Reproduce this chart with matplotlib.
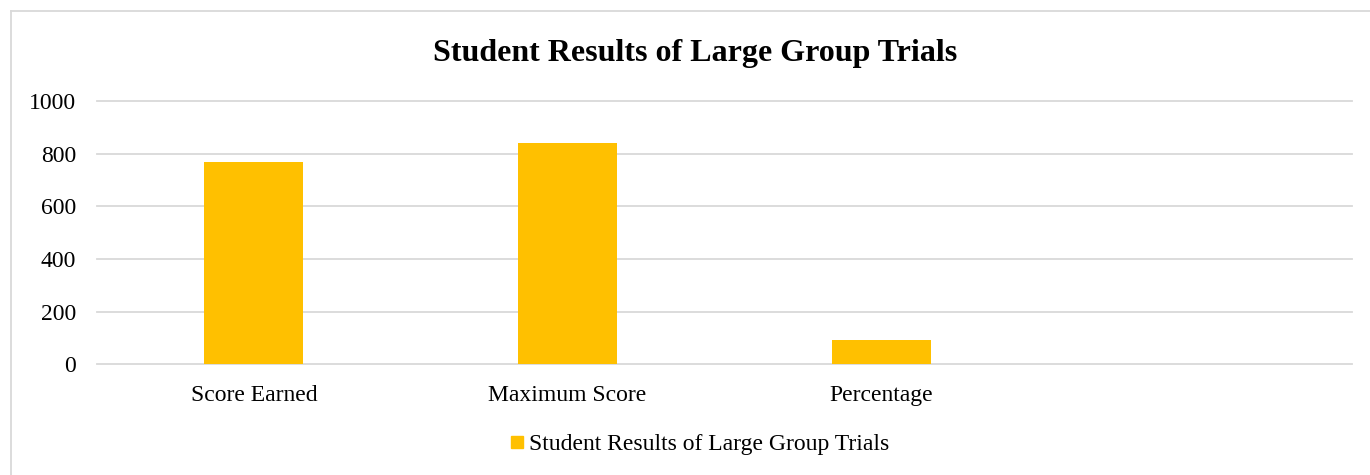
import matplotlib
matplotlib.use("Agg")
import matplotlib.pyplot as plt
from matplotlib.lines import Line2D

categories = ["Score Earned", "Maximum Score", "Percentage", ""]
values = [770, 840, 91.67, 0]
series_name = "Student Results of Large Group Trials"
title = "Student Results of Large Group Trials"
yticks = [0, 200, 400, 600, 800, 1000]

plt.rcParams['font.family'] = ['Liberation Serif', 'DejaVu Serif']

W, H = 1370, 475
fig = plt.figure(figsize=(W / 100, H / 100), dpi=100)
ax = fig.add_axes([97 / W, 1 - 364.3 / H, (1352 - 97) / W, (364.3 - 101) / H])

bar_color = "#FFC000"
x = list(range(len(categories)))
ax.bar(x[:3], values[:3], width=0.315, color=bar_color, zorder=3)
ax.set_xlim(-0.5, len(categories) - 0.5)
ax.set_ylim(0, 1000)
ax.set_yticks(yticks)
ax.set_yticklabels([str(v) for v in yticks])
ax.set_xticks(x)
ax.set_xticklabels(categories)
ax.tick_params(axis='both', length=0, labelsize=17, colors="#000000")
ax.tick_params(axis='y', pad=15)
ax.tick_params(axis='x', pad=15)
ax.grid(axis='y', color="#D9D9D9", linewidth=1.3, zorder=0)
for gl in ax.get_ygridlines():
    gl.set_clip_on(False)
for s in ax.spines.values():
    s.set_visible(False)

fig.text(695 / W, 1 - 54 / H, title, ha='center', va='center',
         fontsize=23, fontweight='bold')

handle = Line2D([], [], marker='s', linestyle='None', markersize=8,
                markerfacecolor=bar_color, markeredgecolor=bar_color)
fig.legend([handle], [series_name], loc='center', bbox_to_anchor=(697 / W, 1 - 444 / H),
           frameon=False, fontsize=17, handletextpad=0.0, handlelength=1.0,
           borderpad=0, borderaxespad=0)

# chart border (top and left visible)
border = "#D9D9D9"
fig.add_artist(Line2D([11 / W, 1], [1 - 11 / H, 1 - 11 / H], color=border, linewidth=1.3, transform=fig.transFigure))
fig.add_artist(Line2D([11 / W, 11 / W], [1 - 11 / H, 0], color=border, linewidth=1.3, transform=fig.transFigure))

fig.savefig("out.png", dpi=100)
